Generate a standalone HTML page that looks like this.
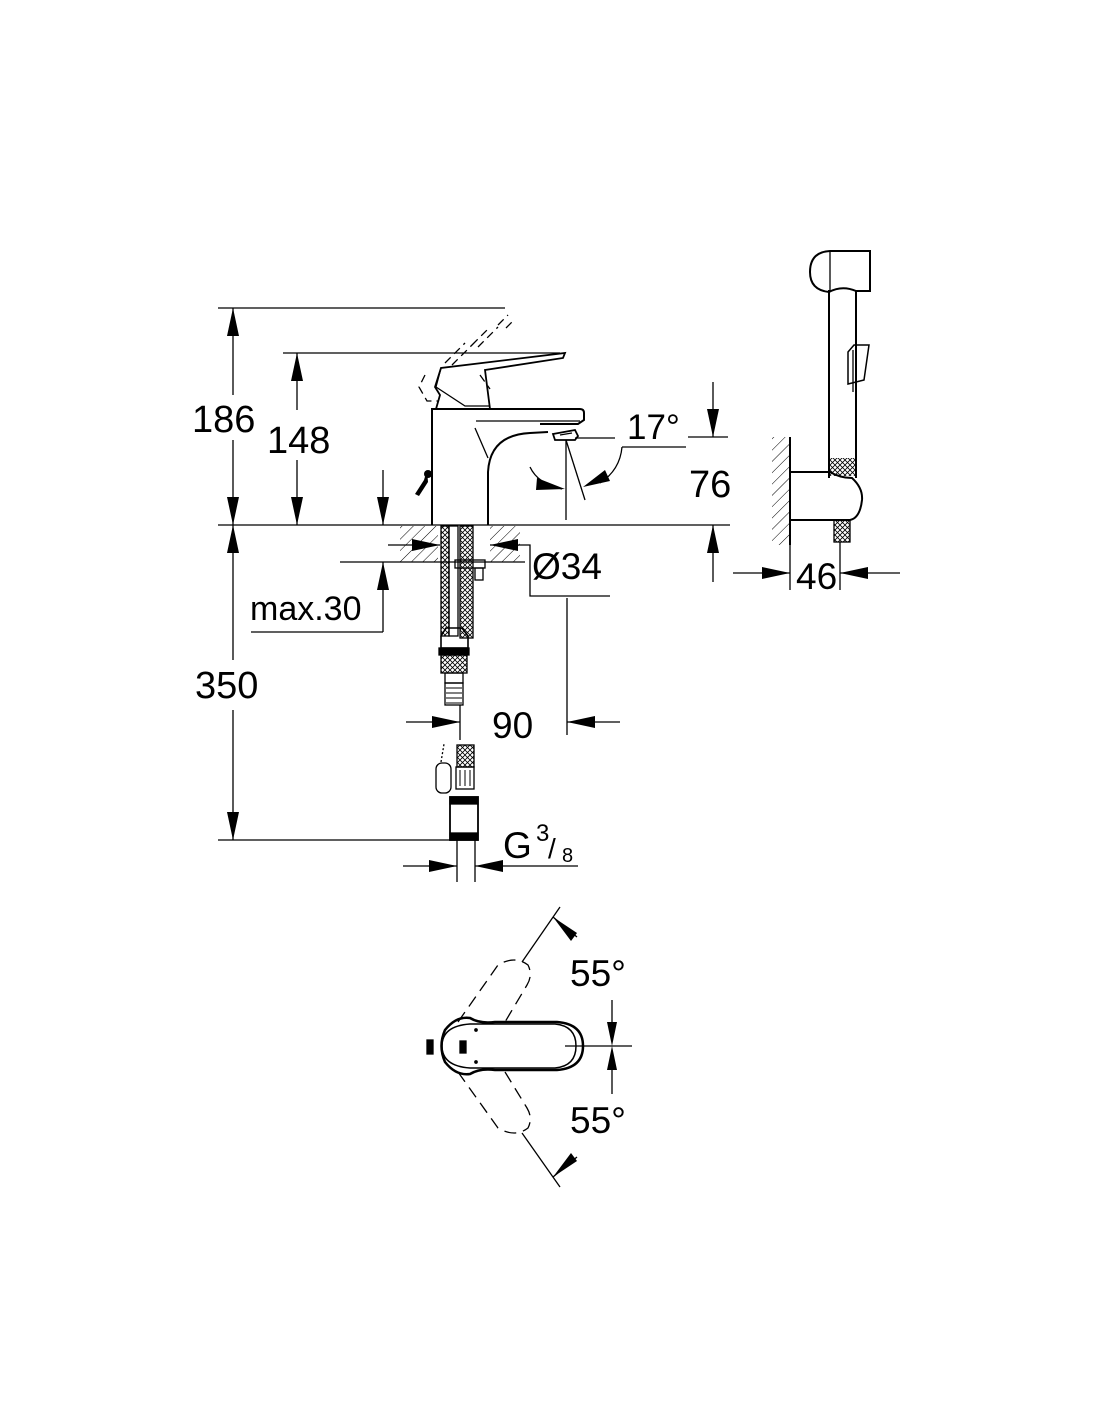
<!DOCTYPE html>
<html><head><meta charset="utf-8"><style>html,body{margin:0;padding:0;background:#fff}svg{display:block}</style></head>
<body>
<svg width="1100" height="1422" viewBox="0 0 1100 1422" xmlns="http://www.w3.org/2000/svg" font-family="Liberation Sans, sans-serif" fill="none" stroke="#000" stroke-width="1.3">
<defs>
<pattern id="h" width="8" height="8" patternUnits="userSpaceOnUse" patternTransform="rotate(45)"><line x1="0" y1="0" x2="0" y2="8" stroke="#000" stroke-width="1"/></pattern>
<pattern id="x" width="5" height="5" patternUnits="userSpaceOnUse"><path d="M0,0L5,5M5,0L0,5" stroke="#000" stroke-width="0.8"/></pattern>
</defs>
<line x1="218" y1="525" x2="730" y2="525"/>
<line x1="218" y1="308" x2="505" y2="308"/>
<line x1="233" y1="308" x2="233" y2="395"/>
<line x1="233" y1="440" x2="233" y2="660"/>
<line x1="233" y1="710" x2="233" y2="840"/>
<line x1="218" y1="840" x2="455" y2="840"/>
<g fill="#000" stroke="none">
<path d="M233,308l-6,28h12z"/><path d="M233,525l-6,-28h12z"/><path d="M233,525l-6,28h12z"/><path d="M233,840l-6,-28h12z"/>
<path d="M297,353l-6,28h12z"/><path d="M297,525l-6,-28h12z"/>
<path d="M383,525l-6,-28h12z"/><path d="M383,562l-6,28h12z"/>
<path d="M713,437l-6,-28h12z"/><path d="M713,525l-6,28h12z"/>
<path d="M440,545l-28,-6v12z"/><path d="M490,545l28,-6v12z"/>
<path d="M460,722l-28,-6v12z"/><path d="M567,722l28,-6v12z"/>
<path d="M457,866l-28,-6v12z"/><path d="M475,866l28,-6v12z"/>
<path d="M790,573l-28,-6v12z"/><path d="M840,573l28,-6v12z"/>
</g>
<text x="192" y="432" font-size="38" fill="#000" stroke="none">186</text>
<text x="267" y="453" font-size="38" fill="#000" stroke="none">148</text>
<text x="195" y="698" font-size="38" fill="#000" stroke="none">350</text>
<line x1="283" y1="353" x2="560" y2="353"/>
<line x1="297" y1="353" x2="297" y2="410"/>
<line x1="297" y1="460" x2="297" y2="525"/>
<!-- faucet -->
<path d="M432,525V409H580Q584,409 584,413V420L578,424H540" stroke-width="2"/>
<line x1="476" y1="421" x2="580" y2="421"/>
<path d="M488,525V472Q490,435 530,433L548,432" stroke-width="2"/>
<line x1="475" y1="428" x2="488" y2="458"/>
<path d="M553,434l22,-4l3,6l-3,4h-20z" stroke-width="1.8"/>
<line x1="560" y1="435" x2="572" y2="433"/>
<path d="M436,409L440,395L435,387L441,368L565,353L563,358L485,370L490,409Z" stroke-width="1.8"/>
<path d="M441,368L436,387L465,406L490,406"/>
<path d="M445,363l20,-20 M452,365l22,-22 M472,345l18,-18 M478,347l20,-20 M498,325l10,-10 M506,328l8,-8 M425,375l-6,12l8,14h12 M480,375l10,14" stroke-dasharray="8,5"/>
<path d="M427,470l-3,10l-9,14l4,2l9,-14z" fill="#000" stroke="none"/>
<circle cx="428" cy="474" r="4" fill="#000" stroke="none"/>
<!-- spout angle -->
<line x1="566" y1="440" x2="566" y2="520"/>
<line x1="566" y1="440" x2="585" y2="500"/>
<line x1="575" y1="438" x2="615" y2="438"/>
<line x1="622" y1="447" x2="686" y2="447"/>
<path d="M530,467Q538,484 562,489"/>
<path d="M622,447Q620,470 600,483"/>
<path d="M565,489l-28,-11l-1,12z" fill="#000" stroke="none"/>
<path d="M583,487l22,-17l5,11z" fill="#000" stroke="none"/>
<text x="627" y="439" font-size="35" fill="#000" stroke="none">17°</text>
<line x1="688" y1="437" x2="728" y2="437"/>
<line x1="713" y1="382" x2="713" y2="437"/>
<line x1="713" y1="525" x2="713" y2="582"/>
<text x="689" y="497" font-size="38" fill="#000" stroke="none">76</text>
<!-- countertop -->
<rect x="400" y="526" width="120" height="36" fill="url(#h)" stroke="none"/>
<rect x="438" y="526" width="52" height="37" fill="#fff" stroke="none"/>
<line x1="400" y1="562" x2="525" y2="562"/>
<line x1="340" y1="562" x2="400" y2="562"/>
<line x1="383" y1="470" x2="383" y2="525"/>
<line x1="383" y1="562" x2="383" y2="632"/>
<line x1="251" y1="632" x2="383" y2="632"/>
<text x="250" y="620" font-size="34" fill="#000" stroke="none">max.30</text>
<line x1="388" y1="545" x2="440" y2="545"/>
<line x1="490" y1="545" x2="525" y2="545"/>
<path d="M525,545H530V596H610"/>
<text x="532" y="579" font-size="37" fill="#000" stroke="none">Ø34</text>
<!-- pipes -->
<rect x="441" y="526" width="8" height="110" fill="url(#x)"/>
<rect x="449" y="526" width="9" height="110"/>
<rect x="460" y="526" width="13" height="112" fill="url(#x)"/>
<rect x="455" y="560" width="30" height="8"/>
<rect x="475" y="568" width="8" height="12"/>
<path d="M441,636l5,-8h16l6,8v12h-27z" stroke-width="1.6"/>
<rect x="439" y="648" width="30" height="7" fill="#000"/>
<rect x="441" y="655" width="26" height="18" fill="url(#x)"/>
<rect x="445" y="673" width="18" height="10"/>
<rect x="445" y="683" width="18" height="22"/>
<path d="M446,688h16M446,693h16M446,698h16M446,703h16" stroke-width="1"/>
<line x1="460" y1="705" x2="460" y2="740"/>
<line x1="406" y1="722" x2="460" y2="722"/>
<line x1="567" y1="598" x2="567" y2="735"/>
<line x1="567" y1="722" x2="620" y2="722"/>
<text x="492" y="738" font-size="37" fill="#000" stroke="none">90</text>
<rect x="457" y="745" width="17" height="22" fill="url(#x)"/>
<rect x="456" y="767" width="18" height="22"/>
<path d="M460,770v16M465,770v16M470,770v16" stroke-width="1"/>
<rect x="450" y="797" width="28" height="43" stroke-width="1.8"/>
<rect x="450" y="797" width="28" height="7" fill="#000"/>
<rect x="450" y="833" width="28" height="7" fill="#000"/>
<rect x="436" y="763" width="15" height="30" rx="6"/>
<path d="M441,762l3,-18" stroke-dasharray="2,2"/>
<line x1="457" y1="840" x2="457" y2="882"/>
<line x1="475" y1="840" x2="475" y2="882"/>
<line x1="403" y1="866" x2="457" y2="866"/>
<line x1="475" y1="866" x2="578" y2="866"/>
<text x="503" y="858" font-size="37" fill="#000" stroke="none">G</text>
<text x="536" y="841" font-size="24" fill="#000" stroke="none">3</text>
<text x="548" y="858" font-size="28" fill="#000" stroke="none">/</text>
<text x="562" y="862" font-size="20" fill="#000" stroke="none">8</text>
<!-- hand shower -->
<rect x="772" y="437" width="18" height="108" fill="url(#h)" stroke="none"/>
<line x1="790" y1="437" x2="790" y2="545" stroke-width="2"/>
<path d="M790,472H830Q840,478 852,478Q863,488 862,500Q860,518 850,520H790" stroke-width="2"/>
<path d="M829,290V478 M856,290V478" stroke-width="2"/>
<rect x="829" y="458" width="27" height="18" fill="url(#x)" stroke="none"/>
<path d="M829,292Q810,290 810,272Q810,252 830,251H870V291H856Q842,285 829,292Z" stroke-width="2"/>
<line x1="830" y1="251" x2="830" y2="291"/>
<path d="M848,352l6,-7h15l-5,35l-16,4z" stroke-width="1.5"/>
<line x1="853" y1="350" x2="853" y2="392"/>
<rect x="834" y="520" width="16" height="22" fill="url(#x)"/>
<line x1="840" y1="542" x2="840" y2="590"/>
<line x1="790" y1="545" x2="790" y2="590"/>
<line x1="733" y1="573" x2="790" y2="573"/>
<line x1="840" y1="573" x2="900" y2="573"/>
<text x="796" y="589" font-size="37" fill="#000" stroke="none">46</text>
<!-- top view -->
<path d="M445,1030Q456,1016 470,1018Q480,1024 495,1022H557Q583,1024 583,1046Q583,1068 557,1070H495Q480,1068 470,1074Q456,1076 445,1062Q438,1046 445,1030Z" stroke-width="2.5"/>
<path d="M470,1024H555Q576,1026 576,1046Q576,1066 555,1068H470Q442,1066 442,1046Q442,1026 470,1024Z" stroke-width="1.5"/>
<path d="M565,1046H632"/>
<rect x="460" y="1041" width="6" height="12" fill="#000"/>
<rect x="427" y="1040" width="6" height="14" fill="#000"/>
<circle cx="476" cy="1030" r="1.2" fill="#000"/><circle cx="476" cy="1062" r="1.2" fill="#000"/>
<path d="M458,1022L498,965Q515,955 528,965Q533,975 527,985L505,1022" stroke-dasharray="12,7"/>
<path d="M458,1072L498,1128Q515,1138 528,1128Q533,1118 527,1108L505,1072" stroke-dasharray="12,7"/>
<line x1="522" y1="962" x2="560" y2="907"/>
<line x1="522" y1="1133" x2="560" y2="1187"/>
<path d="M553,917l24,20M553,1177l24,-20 M612,1000V1040 M612,1052V1094"/>
<path d="M553,917l18,24l6,-8z M553,1177l18,-24l6,8z M612,1046l-5,-24h10z M612,1046l-5,24h10z" fill="#000" stroke="none"/>
<text x="570" y="986" font-size="37" fill="#000" stroke="none">55°</text>
<text x="570" y="1133" font-size="37" fill="#000" stroke="none">55°</text>
</svg>
</body></html>
